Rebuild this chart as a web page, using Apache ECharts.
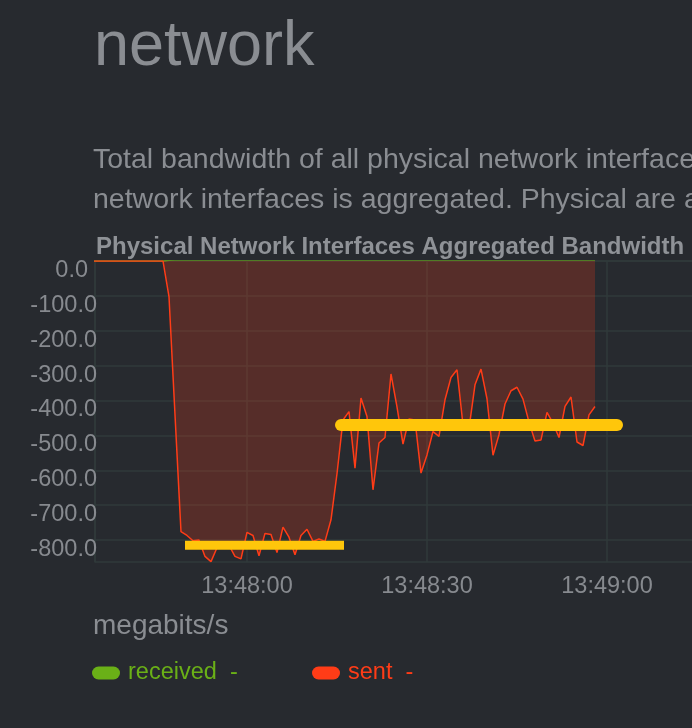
<!DOCTYPE html>
<html><head><meta charset="utf-8">
<script src="https://cdn.jsdelivr.net/npm/echarts@6/dist/echarts.min.js"></script>
<style>html,body{margin:0;padding:0;background:#272a2f;overflow:hidden}#c{width:692px;height:728px}</style>
</head><body><div id="c"></div>
<script>
// ---- data ----
const FIRST_TIME = '13:47:34';   // time of first sample
const STEP_SECONDS = 1;          // one sample per second
const sent = [
  0,0,0,0,0,0,0,0,0,0,0,0,0,
  -102,-440,-776,-787,-802,-800,-847,-862,-822,-808,-815,-847,-854,
  -778,-787,-845,-781,-784,-836,-763,-792,-842,-787,-769,-804,-797,-804,-742,
  -610,-456,-432,-594,-393,-446,-656,-522,-506,-324,-418,-525,-453,-456,
  -608,-556,-489,-503,-398,-334,-312,-470,-480,-355,-310,-395,-557,-498,
  -410,-372,-362,-396,-462,-516,-513,-434,-465,-506,-417,-390,-519,-529,-441,-417
];
const received = [
  0,0,0,0,0,0,0,0,0,0,0,0,0,
  2,3,3,3,3,3,3,3,3,3,3,3,3,
  3,3,3,3,3,3,3,3,3,3,3,3,3,3,3,
  3,3,3,3,3,3,3,3,3,3,3,3,3,3,
  3,3,3,3,3,3,3,3,3,3,3,3,3,3,
  3,3,3,3,3,3,3,3,3,3,3,3,3,3,3,3
];
const seriesNames = ['received', 'sent'];
const xRange = ['13:47:34.67', '13:49:20'];
const yRange = [-863, 0];
const lowBandTimes = ['13:47:49.67', '13:48:16.17'];
const lowBandValue = -815;
const highBandTimes = ['13:48:15.67', '13:49:01.67'];
const highBandValue = -470;
const unitLabel = 'megabits/s';
const pageTitle = 'network';
const descriptionLines = [
  'Total bandwidth of all physical network interfaces. This does not include lo, VPNs, network bridges, IFB devices, bond interfaces, etc. Only the bandwidth of physical',
  'network interfaces is aggregated. Physical are all the network interfaces that are listed in /proc/net/dev, but do not exist in /sys/devices/virtual/net.'
];
const chartTitle = 'Physical Network Interfaces Aggregated Bandwidth';

// ---- helpers ----
function toSec(s){ const p = s.split(':'); return (+p[0])*3600 + (+p[1])*60 + parseFloat(p[2]); }
function fmt(v){ v = Math.round(v); const h=Math.floor(v/3600), m=Math.floor(v%3600/60), s=v%60;
  return [h,m,s].map(x=>String(x).padStart(2,'0')).join(':'); }
const t0 = toSec(FIRST_TIME);
const pairs = arr => arr.map((v,i)=>[t0 + i*STEP_SECONDS, v]);

const FONT = '"Liberation Sans", Arial, Helvetica, sans-serif';
const GRID = '#313a3b';
const LABEL = '#878a8f';
const GREEN = '#6ab017';
const RED = '#ff3c17';
const YELLOW = '#ffc60b';

const chart = echarts.init(document.getElementById('c'), null, {renderer:'canvas'});
chart.setOption({
  backgroundColor: '#272a2f',
  animation: false,
  textStyle: { fontFamily: FONT },
  graphic: [
    { type:'text', x:94, y:48, style:{ text: pageTitle, font:'500 63px '+FONT, fill:'#8a8d92', verticalAlign:'middle',
      shadowColor:'rgba(0,0,0,0.6)', shadowBlur:3, shadowOffsetY:1 } },
    { type:'text', x:93, y:160, style:{ text: descriptionLines[0], font:'28.5px '+FONT, fill:'#8a8d92', verticalAlign:'middle' } },
    { type:'text', x:93, y:200, style:{ text: descriptionLines[1], font:'28.5px '+FONT, fill:'#8a8d92', verticalAlign:'middle' } },
    { type:'text', x:96, y:247, style:{ text: chartTitle, font:'bold 24px '+FONT, fill:'#8f9297', verticalAlign:'middle' } },
    { type:'text', x:93, y:626, style:{ text: unitLabel, font:'28px '+FONT, fill:'#8a8d92', verticalAlign:'middle' } }
  ],
  legend: [
    { data:[seriesNames[0]], left:92, top:661, padding:0, itemWidth:28, itemHeight:13,
      icon:'path://M6.5,0 H21.5 A6.5,6.5 0 0 1 21.5,13 H6.5 A6.5,6.5 0 0 1 6.5,0 Z',
      formatter:'{name}  -', textStyle:{ color:GREEN, fontSize:23.5, fontFamily:FONT, padding:[0,0,0,3] } },
    { data:[seriesNames[1]], left:312, top:661, padding:0, itemWidth:28, itemHeight:13,
      icon:'path://M6.5,0 H21.5 A6.5,6.5 0 0 1 21.5,13 H6.5 A6.5,6.5 0 0 1 6.5,0 Z',
      formatter:'{name}  -', textStyle:{ color:RED, fontSize:23.5, fontFamily:FONT, padding:[0,0,0,3] } }
  ],
  grid: { left:95, top:261, width:632, height:301, containLabel:false, outerBoundsMode:'none' },
  xAxis: {
    type:'value', min: toSec(xRange[0]), max: toSec(xRange[1]), splitNumber:4,
    axisLine:{ show:true, lineStyle:{ color:GRID, width:1.5 } },
    axisTick:{ show:false },
    splitLine:{ show:true, lineStyle:{ color:GRID, width:1.5 } },
    axisLabel:{ color:LABEL, fontSize:23.5, fontFamily:FONT, margin:13, showMinLabel:false, showMaxLabel:false,
      formatter: v => fmt(v) }
  },
  yAxis: {
    type:'value', min: yRange[0], max: yRange[1], splitNumber:9,
    axisLine:{ show:true, lineStyle:{ color:GRID, width:1.5 } },
    axisTick:{ show:false },
    splitLine:{ show:true, lineStyle:{ color:GRID, width:1.5 } },
    axisLabel:{ color:LABEL, fontSize:23.5, fontFamily:FONT, margin:-2, verticalAlign:'top', lineHeight:19,
      showMinLabel:false,
      formatter: v => v === 0 ? '{z|0.0}' : v.toFixed(1),
      rich:{ z:{ color:LABEL, fontSize:23.5, fontFamily:FONT, lineHeight:19, padding:[0,9,0,0] } } }
  },
  series: [
    { name:seriesNames[0], type:'line', data:pairs(received), symbol:'none', color:GREEN,
      lineStyle:{ width:1.5 }, z:2 },
    { name:seriesNames[1], type:'line', data:pairs(sent), symbol:'none', color:RED,
      lineStyle:{ width:1.5 }, areaStyle:{ color:RED, opacity:0.22 }, z:3 },
    { name:'lowBand', type:'line', data: lowBandTimes.map(t=>[toSec(t), lowBandValue]), symbol:'none', silent:true,
      color:YELLOW, lineStyle:{ color:YELLOW, width:9, cap:'butt' }, z:5, clip:false },
    { name:'highBand', type:'line', data: highBandTimes.map(t=>[toSec(t), highBandValue]), symbol:'none', silent:true,
      color:YELLOW, lineStyle:{ color:YELLOW, width:12, cap:'round' }, z:5, clip:false }
  ]
});
</script></body></html>
